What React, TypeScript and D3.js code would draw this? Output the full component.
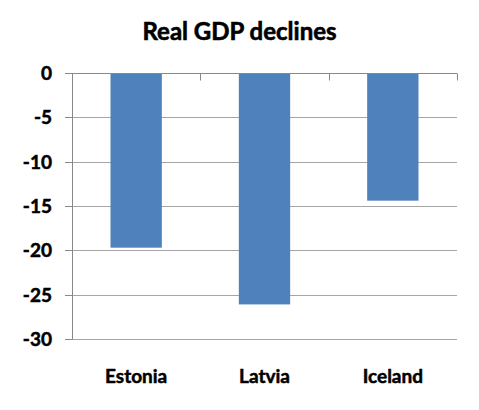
import React from "react";
import * as d3 from "d3";

const categories = ["Estonia", "Latvia", "Iceland"];
const values = [-19.7, -26.1, -14.4];
const yTicks = [0, -5, -10, -15, -20, -25, -30];
const title = "Real GDP declines";

const W = 479;
const H = 410;
const left = 72;
const right = 457;
const top = 73;
const bottom = 339;
const font = "Lato, 'Open Sans', sans-serif";

export default function App() {
  const x = d3.scaleBand<string>().domain(categories).range([left, right]).paddingInner(0.6).paddingOuter(0.3);
  const xb = d3.scaleBand<string>().domain(categories).range([left, right]);
  const y = d3.scaleLinear().domain([-30, 0]).range([bottom, top]);
  const r = (v: number) => Math.round(v) + 0.5;
  const tickXs = [left, ...categories.map((c) => (xb(c) as number) + xb.bandwidth())];
  return (
    <svg width={W} height={H} style={{ position: "absolute", left: 0, top: 0 }}>
      <rect x={0} y={0} width={W} height={H} fill="#fff" />
      <text x={239.5} y={40} textAnchor="middle" fontFamily={font} fontWeight={700} fontSize={24} fill="#000" stroke="#000" strokeWidth={0.6}>
        {title}
      </text>
      {yTicks.filter((t) => t !== 0).map((t) => (
        <line key={"g" + t} x1={left} x2={right} y1={r(y(t))} y2={r(y(t))} stroke="#a6a6a6" strokeWidth={1} />
      ))}
      {categories.map((c, i) => (
        <rect
          key={c}
          x={x(c) as number}
          y={y(0)}
          width={x.bandwidth()}
          height={y(values[i]) - y(0)}
          fill="#4F81BD"
        />
      ))}
      <line x1={r(left)} x2={r(left)} y1={r(top)} y2={r(bottom)} stroke="#898989" strokeWidth={1} />
      {yTicks.map((t) => (
        <line key={"t" + t} x1={left - 7} x2={left} y1={r(y(t))} y2={r(y(t))} stroke="#898989" strokeWidth={1} />
      ))}
      <line x1={left} x2={right} y1={r(y(0))} y2={r(y(0))} stroke="#898989" strokeWidth={1} />
      {tickXs.map((tx, i) => (
        <line key={"xt" + i} x1={r(tx)} x2={r(tx)} y1={r(y(0))} y2={r(y(0)) + 7} stroke="#898989" strokeWidth={1} />
      ))}
      {yTicks.map((t) => (
        <text
          key={"l" + t}
          x={52}
          y={y(t)}
          dy="0.36em"
          textAnchor="end"
          fontFamily={font}
          fontWeight={700}
          fontSize={19}
          fill="#000"
          stroke="#000"
          strokeWidth={0.5}
        >
          {t}
        </text>
      ))}
      {categories.map((c) => (
        <text
          key={"c" + c}
          x={(xb(c) as number) + xb.bandwidth() / 2}
          y={383}
          textAnchor="middle"
          fontFamily={font}
          fontWeight={700}
          fontSize={19}
          fill="#000"
          stroke="#000"
          strokeWidth={0.5}
        >
          {c}
        </text>
      ))}
    </svg>
  );
}
